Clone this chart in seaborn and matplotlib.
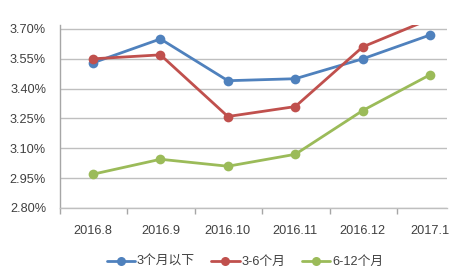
import matplotlib
matplotlib.use("Agg")
import matplotlib.pyplot as plt
import seaborn as sns
import pandas as pd
from matplotlib.ticker import FuncFormatter
from matplotlib.lines import Line2D

categories = ["2016.8", "2016.9", "2016.10", "2016.11", "2016.12", "2017.1"]
series_names = ["3个月以下", "3-6个月", "6-12个月"]
s1 = [3.53, 3.65, 3.44, 3.45, 3.55, 3.67]
s2 = [3.55, 3.57, 3.26, 3.31, 3.61, 3.75]
s3 = [2.97, 3.045, 3.01, 3.07, 3.29, 3.47]
yticks = [2.80, 2.95, 3.10, 3.25, 3.40, 3.55, 3.70]
colors = ["#4F81BD", "#C0504D", "#9BBB59"]

sns.set_theme(style="white")
plt.rcParams["font.family"] = ["Liberation Sans", "Noto Sans CJK SC", "DejaVu Sans"]

rows = []
for name, vals in zip(series_names, [s1, s2, s3]):
    for i, (c, v) in enumerate(zip(categories, vals)):
        rows.append({"cat": c, "x": i, "value": v, "series": name})
df = pd.DataFrame(rows)

fig = plt.figure(figsize=(4.71, 2.80), dpi=100)
ax = fig.add_axes([60 / 471, 1 - 208 / 280, (447 - 60) / 471, (208 - 24.5) / 280])

sns.lineplot(data=df, x="x", y="value", hue="series", palette=colors,
             marker="o", markersize=7, markeredgewidth=0, linewidth=2,
             ax=ax, legend=False)

ax.set_xlim(-0.49, 5.25)
ax.set_ylim(2.80, 3.7226)
ax.set_yticks(yticks)
ax.yaxis.set_major_formatter(FuncFormatter(lambda v, p: f"{v:.2f}%"))
ax.set_xticks(range(len(categories)))
ax.set_xticklabels(categories)
ax.set_xlabel("")
ax.set_ylabel("")
ax.grid(axis="y", color="#BFBFBF", linewidth=1)
ax.set_axisbelow(True)
for sp in ["top", "right"]:
    ax.spines[sp].set_visible(False)
ax.spines["left"].set_color("#A6A6A6")
ax.spines["bottom"].set_color("#BFBFBF")
ax.spines["left"].set_linewidth(1)
ax.spines["bottom"].set_linewidth(1)

ax.set_xticks([i - 0.49 for i in range(6)], minor=True)
ax.tick_params(axis="x", which="major", length=0, pad=12, labelsize=9.2, labelcolor="#404040")
ax.tick_params(axis="x", which="minor", length=4, color="#A6A6A6", direction="out", bottom=True)
ax.tick_params(axis="y", length=0, pad=10, labelsize=9.2, labelcolor="#404040")

handles = [Line2D([0], [0], color=c, lw=2, marker="o", markersize=6.5, markeredgewidth=0) for c in colors]
fig.legend(handles, series_names, loc="center", bbox_to_anchor=(0.52, 1 - 262 / 280), ncol=3,
           frameon=False, fontsize=9.2, handlelength=2.2, handletextpad=0.15, columnspacing=1.3,
           labelcolor="#404040")

fig.savefig("out.png", dpi=100)
